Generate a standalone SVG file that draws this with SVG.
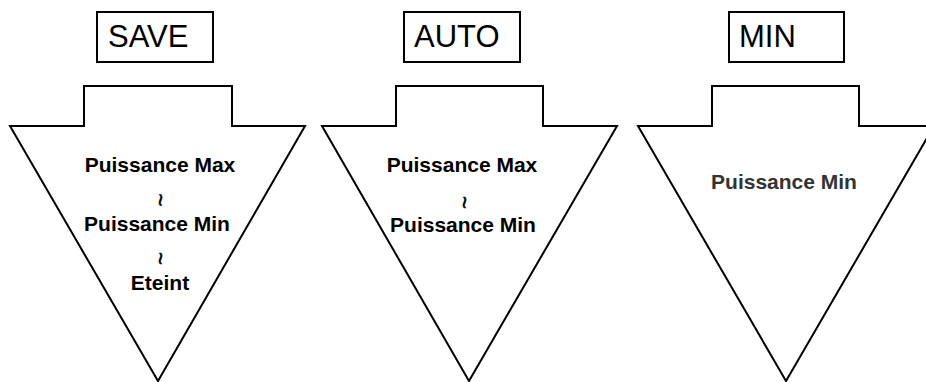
<svg xmlns="http://www.w3.org/2000/svg" width="926" height="382" viewBox="0 0 926 382">
<style>
.box{fill:#fff;stroke:#000;stroke-width:2}
.shape{fill:#fff;stroke:#000;stroke-width:2;stroke-linejoin:miter}
.lbl{font-family:"Liberation Sans",Arial,sans-serif;font-size:31px;fill:#000}
.t{font-family:"Liberation Sans",Arial,sans-serif;font-size:21px;font-weight:bold;fill:#000;text-anchor:middle}
.t3{fill:#333}
.w{font-family:"Liberation Sans",Arial,sans-serif;font-size:22px;fill:#000;stroke:#000;stroke-width:0.6;text-anchor:middle}
</style>
<rect width="926" height="382" fill="#fff"/>
<g id="save">
<rect class="box" x="97" y="12" width="116" height="50"/>
<text class="lbl" x="108" y="47">SAVE</text>
<polygon class="shape" points="10,126 84,126 84,86 232,86 232,126 305,126 158,381"/>
<text class="t" x="160" y="172">Puissance Max</text>
<text class="w" x="160" y="207.5" transform="rotate(90 160 200)">~</text>
<text class="t" x="157" y="231">Puissance Min</text>
<text class="w" x="160.5" y="266" transform="rotate(90 160.5 258.5)">~</text>
<text class="t" x="160" y="290">Eteint</text>
</g>
<g id="auto">
<rect class="box" x="404" y="12" width="116" height="50"/>
<text class="lbl" x="414" y="47">AUTO</text>
<polygon class="shape" points="322,126 396,126 396,86 543,86 543,126 617,126 469,381"/>
<text class="t" x="462" y="172">Puissance Max</text>
<text class="w" x="464" y="210" transform="rotate(90 464 202.5)">~</text>
<text class="t" x="463" y="232">Puissance Min</text>
</g>
<g id="min">
<rect class="box" x="729" y="12" width="115" height="50"/>
<text class="lbl" x="739" y="47">MIN</text>
<polygon class="shape" points="638,126 712,126 712,86 859,86 859,126 934,126 786,381"/>
<text class="t t3" x="784" y="189">Puissance Min</text>
</g>
<g id="connectors"></g>
</svg>
